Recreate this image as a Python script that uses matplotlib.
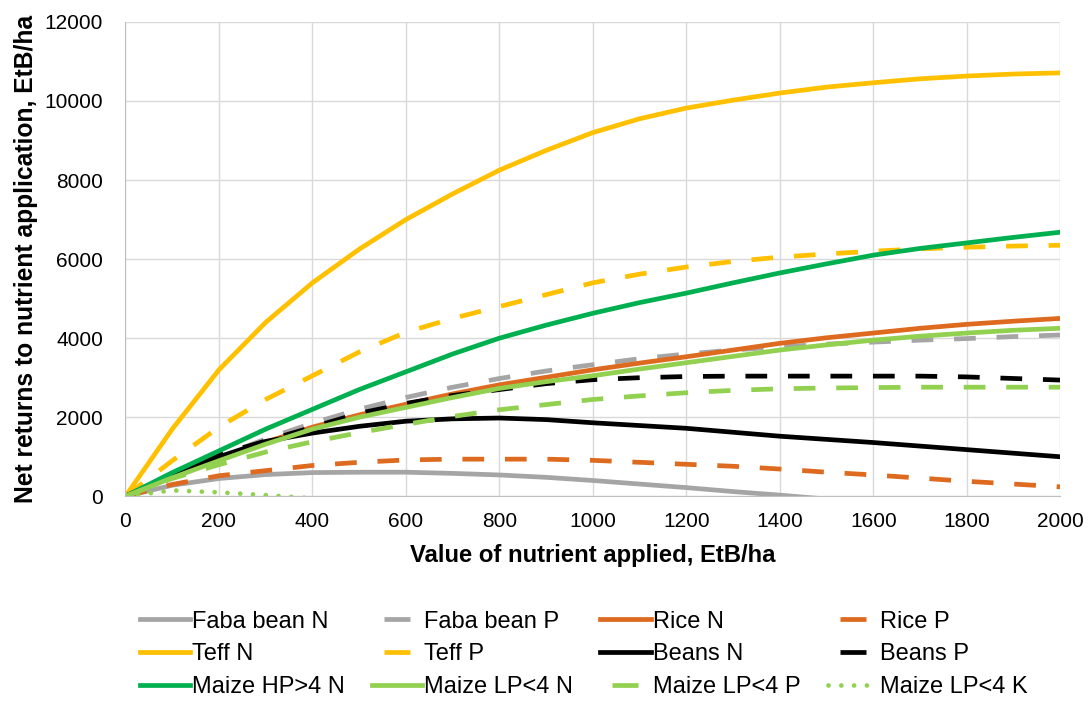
import matplotlib
matplotlib.use("Agg")
import matplotlib.pyplot as plt
from matplotlib.lines import Line2D

plt.rcParams['font.family'] = ['Liberation Sans', 'DejaVu Sans']

# nutrient value applied, EtB/ha
x = [0, 100, 200, 300, 400, 500, 600, 700, 800, 900, 1000,
     1100, 1200, 1300, 1400, 1500, 1600, 1700, 1800, 1900, 2000]

faba_n = [0, 280, 450, 550, 600, 610, 610, 580, 540, 480, 400,
          310, 220, 120, 30, -70]
faba_p = [0, 520, 1000, 1450, 1850, 2200, 2500, 2760, 2980, 3170, 3330,
          3480, 3600, 3700, 3780, 3850, 3900, 3950, 3990, 4040, 4080]
rice_n = [0, 500, 950, 1370, 1750, 2060, 2330, 2590, 2820, 3010, 3200,
          3370, 3530, 3700, 3870, 4010, 4130, 4250, 4350, 4430, 4500]
rice_p = [0, 300, 520, 650, 780, 860, 920, 940, 940, 940, 910,
          860, 810, 760, 690, 610, 540, 460, 380, 310, 240]
teff_n = [0, 1700, 3200, 4400, 5400, 6250, 7000, 7650, 8250, 8750, 9200,
          9550, 9820, 10020, 10200, 10350, 10460, 10560, 10630, 10680, 10710]
teff_p = [0, 900, 1750, 2450, 3050, 3650, 4150, 4500, 4800, 5100, 5400,
          5620, 5800, 5940, 6050, 6130, 6200, 6260, 6300, 6330, 6350]
beans_n = [0, 550, 1000, 1390, 1600, 1770, 1900, 1960, 1980, 1940, 1860,
           1790, 1720, 1620, 1520, 1440, 1360, 1270, 1180, 1090, 1000]
beans_p = [0, 550, 1050, 1400, 1750, 2100, 2350, 2550, 2700, 2850, 2950,
           3000, 3030, 3040, 3040, 3040, 3040, 3040, 3020, 2980, 2940]
maize_hp_n = [0, 600, 1150, 1700, 2200, 2700, 3150, 3600, 4000, 4330, 4630,
              4900, 5140, 5400, 5650, 5880, 6100, 6270, 6410, 6550, 6680]
maize_lp_n = [0, 470, 900, 1320, 1700, 2000, 2250, 2500, 2730, 2900, 3050,
              3220, 3380, 3540, 3700, 3830, 3950, 4050, 4130, 4200, 4250]
maize_lp_p = [0, 450, 800, 1120, 1380, 1610, 1820, 2020, 2190, 2320, 2450,
              2540, 2620, 2680, 2720, 2740, 2750, 2760, 2760, 2760, 2760]
maize_lp_k = [0, 150, 100, 30, -50]

series = [
    ('Faba bean N', faba_n, '#A5A5A5', '-'),
    ('Faba bean P', faba_p, '#A5A5A5', '--'),
    ('Rice N', rice_n, '#DD6A1F', '-'),
    ('Rice P', rice_p, '#DD6A1F', '--'),
    ('Teff N', teff_n, '#FFC000', '-'),
    ('Teff P', teff_p, '#FFC000', '--'),
    ('Beans N', beans_n, '#000000', '-'),
    ('Beans P', beans_p, '#000000', '--'),
    ('Maize HP>4 N', maize_hp_n, '#00B050', '-'),
    ('Maize LP<4 N', maize_lp_n, '#92D050', '-'),
    ('Maize LP<4 P', maize_lp_p, '#92D050', '--'),
    ('Maize LP<4 K', maize_lp_k, '#92D050', ':'),
]

fig = plt.figure(figsize=(10.91, 7.05), dpi=100)
ax = fig.add_axes([0.115, 0.296, 0.857, 0.673])

lw = 3.4
handles = []
for name, y, col, ls in series:
    xs = x[:len(y)]
    if ls == '--':
        ax.plot(xs, y, color=col, lw=lw, linestyle=(0, (4.6, 4.4)))
        # legend shows one short dash in the middle of the handle
        h = Line2D([], [], color=col, linestyle='none', marker='_',
                   markersize=19, markeredgewidth=lw)
    elif ls == ':':
        ax.plot(xs, y, color=col, lw=lw, linestyle=(0, (0.01, 2.7)),
                dash_capstyle='round')
        h = Line2D([], [], color=col, lw=lw, linestyle=(0, (0.01, 2.7)),
                   dash_capstyle='round')
    else:
        ax.plot(xs, y, color=col, lw=lw)
        h = Line2D([], [], color=col, lw=lw)
    handles.append((h, name))

ax.set_xlim(0, 2000)
ax.set_ylim(0, 12000)
ax.set_xticks(range(0, 2001, 200))
ax.set_yticks(range(0, 12001, 2000))
ax.grid(True, color='#D9D9D9', lw=1)
ax.set_axisbelow(True)
for s in ['top', 'right']:
    ax.spines[s].set_visible(False)
for s in ['left', 'bottom']:
    ax.spines[s].set_color('#BFBFBF')
ax.tick_params(length=0, labelsize=15)
ax.tick_params(axis='x', pad=11)
ax.tick_params(axis='y', pad=16)
ax.set_xlabel('Value of nutrient applied, EtB/ha', fontsize=17.2,
              fontweight='bold', labelpad=10)
ax.set_ylabel('Net returns to nutrient application, EtB/ha', fontsize=17.7,
              fontweight='bold', labelpad=5)

# legend rows read left to right
order = [i for c in range(4) for i in (c, c + 4, c + 8)]
fig.legend([handles[i][0] for i in order], [handles[i][1] for i in order],
           ncol=4, loc='center', bbox_to_anchor=(0.535, 0.072),
           frameon=False, fontsize=17, handlelength=2.12, handletextpad=0.1,
           columnspacing=1.15, labelspacing=0.45, numpoints=1)

fig.savefig('out.png', dpi=100)
